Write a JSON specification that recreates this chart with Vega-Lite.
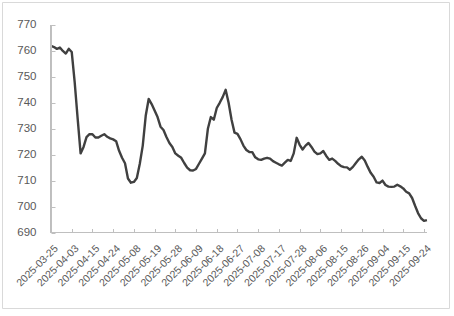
{
  "$schema": "https://vega.github.io/schema/vega-lite/v6.json",
  "autosize": "none",
  "width": 447,
  "height": 306,
  "padding": {"left": 2, "top": 2, "right": 5, "bottom": 8},
  "background": "white",
  "config": {
    "view": {"stroke": "#d9d9d9", "strokeWidth": 1, "fill": "white"},
    "axis": {"labelFont": "Liberation Sans", "labelColor": "#595959", "tickColor": "#bfbfbf", "tickWidth": 1, "domain": false, "grid": false, "title": null, "labelOverlap": false, "zindex": 0},
    "axisQuantitative": {"labelOverlap": false}
  },
  "data": {"values": [
    {"date": "2025-03-25", "price": 762},
    {"date": "2025-03-26", "price": 761.5},
    {"date": "2025-03-27", "price": 760.8},
    {"date": "2025-03-28", "price": 761.3},
    {"date": "2025-03-31", "price": 760},
    {"date": "2025-04-01", "price": 759},
    {"date": "2025-04-02", "price": 760.8},
    {"date": "2025-04-03", "price": 759.6},
    {"date": "2025-04-07", "price": 748},
    {"date": "2025-04-08", "price": 734},
    {"date": "2025-04-09", "price": 720.5},
    {"date": "2025-04-10", "price": 723},
    {"date": "2025-04-11", "price": 726.8},
    {"date": "2025-04-14", "price": 727.9},
    {"date": "2025-04-15", "price": 727.9},
    {"date": "2025-04-16", "price": 726.6},
    {"date": "2025-04-17", "price": 726.6},
    {"date": "2025-04-18", "price": 727.3},
    {"date": "2025-04-21", "price": 727.9},
    {"date": "2025-04-22", "price": 726.9},
    {"date": "2025-04-23", "price": 726.3},
    {"date": "2025-04-24", "price": 725.9},
    {"date": "2025-04-25", "price": 725.2},
    {"date": "2025-04-28", "price": 721.5},
    {"date": "2025-04-29", "price": 718.8},
    {"date": "2025-04-30", "price": 716.7},
    {"date": "2025-05-06", "price": 710.8},
    {"date": "2025-05-07", "price": 709.2},
    {"date": "2025-05-08", "price": 709.5},
    {"date": "2025-05-09", "price": 711},
    {"date": "2025-05-12", "price": 716.5},
    {"date": "2025-05-13", "price": 723.5},
    {"date": "2025-05-14", "price": 735},
    {"date": "2025-05-15", "price": 741.5},
    {"date": "2025-05-16", "price": 739.5},
    {"date": "2025-05-19", "price": 737},
    {"date": "2025-05-20", "price": 734.5},
    {"date": "2025-05-21", "price": 730.8},
    {"date": "2025-05-22", "price": 729.5},
    {"date": "2025-05-23", "price": 726.8},
    {"date": "2025-05-26", "price": 724.5},
    {"date": "2025-05-27", "price": 723},
    {"date": "2025-05-28", "price": 720.5},
    {"date": "2025-05-29", "price": 719.6},
    {"date": "2025-05-30", "price": 718.8},
    {"date": "2025-06-03", "price": 716.8},
    {"date": "2025-06-04", "price": 715},
    {"date": "2025-06-05", "price": 714},
    {"date": "2025-06-06", "price": 713.9},
    {"date": "2025-06-09", "price": 714.5},
    {"date": "2025-06-10", "price": 716.5},
    {"date": "2025-06-11", "price": 718.5},
    {"date": "2025-06-12", "price": 720.5},
    {"date": "2025-06-13", "price": 730},
    {"date": "2025-06-16", "price": 734.5},
    {"date": "2025-06-17", "price": 733.5},
    {"date": "2025-06-18", "price": 738},
    {"date": "2025-06-19", "price": 740},
    {"date": "2025-06-20", "price": 742.2},
    {"date": "2025-06-23", "price": 745},
    {"date": "2025-06-24", "price": 740},
    {"date": "2025-06-25", "price": 733.5},
    {"date": "2025-06-26", "price": 728.5},
    {"date": "2025-06-27", "price": 728},
    {"date": "2025-06-30", "price": 726},
    {"date": "2025-07-01", "price": 723.5},
    {"date": "2025-07-02", "price": 721.8},
    {"date": "2025-07-03", "price": 721},
    {"date": "2025-07-04", "price": 721},
    {"date": "2025-07-07", "price": 719},
    {"date": "2025-07-08", "price": 718.2},
    {"date": "2025-07-09", "price": 718},
    {"date": "2025-07-10", "price": 718.5},
    {"date": "2025-07-11", "price": 718.8},
    {"date": "2025-07-14", "price": 718.5},
    {"date": "2025-07-15", "price": 717.5},
    {"date": "2025-07-16", "price": 716.9},
    {"date": "2025-07-17", "price": 716.3},
    {"date": "2025-07-18", "price": 715.8},
    {"date": "2025-07-21", "price": 716.9},
    {"date": "2025-07-22", "price": 718},
    {"date": "2025-07-23", "price": 717.6},
    {"date": "2025-07-24", "price": 720.5},
    {"date": "2025-07-25", "price": 726.5},
    {"date": "2025-07-28", "price": 723.8},
    {"date": "2025-07-29", "price": 722},
    {"date": "2025-07-30", "price": 723.5},
    {"date": "2025-07-31", "price": 724.5},
    {"date": "2025-08-01", "price": 723},
    {"date": "2025-08-04", "price": 721.2},
    {"date": "2025-08-05", "price": 720.2},
    {"date": "2025-08-06", "price": 720.5},
    {"date": "2025-08-07", "price": 721.4},
    {"date": "2025-08-08", "price": 719.5},
    {"date": "2025-08-11", "price": 718},
    {"date": "2025-08-12", "price": 718.5},
    {"date": "2025-08-13", "price": 717.6},
    {"date": "2025-08-14", "price": 716.5},
    {"date": "2025-08-15", "price": 715.6},
    {"date": "2025-08-18", "price": 715.2},
    {"date": "2025-08-19", "price": 715.1},
    {"date": "2025-08-20", "price": 714.2},
    {"date": "2025-08-21", "price": 715.3},
    {"date": "2025-08-22", "price": 716.8},
    {"date": "2025-08-25", "price": 718.2},
    {"date": "2025-08-26", "price": 719.2},
    {"date": "2025-08-27", "price": 717.8},
    {"date": "2025-08-28", "price": 715.3},
    {"date": "2025-08-29", "price": 713},
    {"date": "2025-09-01", "price": 711.5},
    {"date": "2025-09-02", "price": 709.3},
    {"date": "2025-09-03", "price": 709.1},
    {"date": "2025-09-04", "price": 710},
    {"date": "2025-09-05", "price": 708.3},
    {"date": "2025-09-08", "price": 707.7},
    {"date": "2025-09-09", "price": 707.6},
    {"date": "2025-09-10", "price": 707.7},
    {"date": "2025-09-11", "price": 708.4},
    {"date": "2025-09-12", "price": 707.8},
    {"date": "2025-09-15", "price": 707},
    {"date": "2025-09-16", "price": 705.7},
    {"date": "2025-09-17", "price": 705.1},
    {"date": "2025-09-18", "price": 703.3},
    {"date": "2025-09-19", "price": 700.3},
    {"date": "2025-09-22", "price": 697.5},
    {"date": "2025-09-23", "price": 695.5},
    {"date": "2025-09-24", "price": 694.5},
    {"date": "2025-09-25", "price": 694.8}
  ]},
  "layer": [
    {
      "mark": {"type": "line", "color": "#404040", "strokeWidth": 2.4, "strokeJoin": "round"},
      "encoding": {
        "x": {
          "field": "date", "type": "ordinal", "sort": "ascending",
          "scale": {"type": "point", "padding": 0, "range": [49, 424.92]},
          "axis": {
            "values": ["2025-03-25","2025-04-03","2025-04-15","2025-04-24","2025-05-08","2025-05-19","2025-05-28","2025-06-09","2025-06-18","2025-06-27","2025-07-08","2025-07-17","2025-07-28","2025-08-06","2025-08-15","2025-08-26","2025-09-04","2025-09-15","2025-09-24"],
            "offset": -75.5,
            "tickSize": -4,
            "labelAngle": -45,
            "labelAlign": "right",
            "labelBaseline": "middle",
            "labelFontSize": 10.5,
            "labelPadding": 18,
            "labelOffset": 5,
            "labelOverlap": false,
            "labelBound": false,
            "title": null
          }
        },
        "y": {
          "field": "price", "type": "quantitative",
          "scale": {"domain": [660.892, 778.867], "nice": false, "zero": false},
          "axis": {
            "values": [690, 700, 710, 720, 730, 740, 750, 760, 770],
            "offset": -49,
            "tickSize": -4,
            "labelFontSize": 11.5,
            "labelPadding": 19,
            "labelOverlap": false,
            "title": null
          }
        }
      }
    },
    {
      "mark": {"type": "rule", "color": "#bfbfbf", "strokeWidth": 1.2},
      "encoding": {
        "x": {"datum": "2025-03-25", "type": "ordinal"},
        "y": {"datum": 690, "type": "quantitative", "axis": {"values": [690, 700, 710, 720, 730, 740, 750, 760, 770], "offset": -49, "tickSize": -4, "labelFontSize": 11.5, "labelPadding": 19, "labelOverlap": false, "title": null}},
        "y2": {"datum": 770}
      }
    },
    {
      "mark": {"type": "rule", "color": "#bfbfbf", "strokeWidth": 1.2},
      "encoding": {
        "x": {"datum": "2025-03-25", "type": "ordinal"},
        "x2": {"datum": "2025-09-25"},
        "y": {"datum": 690, "type": "quantitative", "axis": {"values": [690, 700, 710, 720, 730, 740, 750, 760, 770], "offset": -49, "tickSize": -4, "labelFontSize": 11.5, "labelPadding": 19, "labelOverlap": false, "title": null}}
      }
    }
  ]
}
